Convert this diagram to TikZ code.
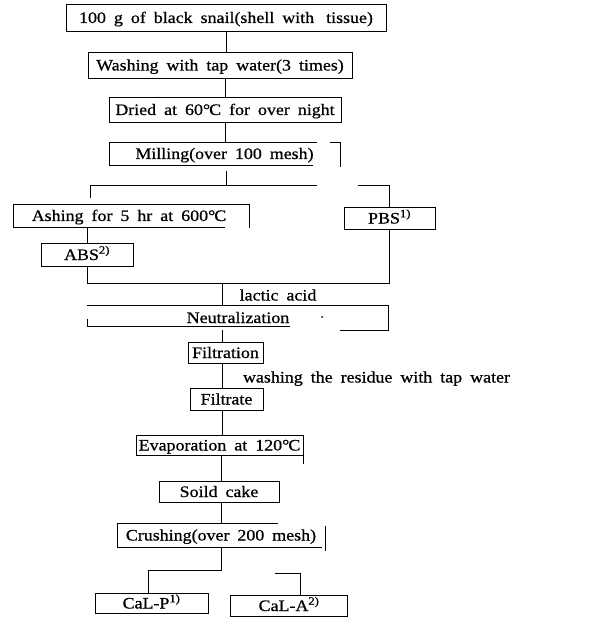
\documentclass[tikz,border=0pt]{standalone}
\usepackage{fontspec}
\setmainfont{Liberation Serif}[FakeStretch=1.12, FakeBold=0.7]
\newcommand{\dC}{°\kern-1pt C}
\newcommand{\nf}{\fontsize{16}{18}\selectfont\spaceskip=0.5em plus 0.1em minus 0.1em\relax}
\begin{document}
\begin{tikzpicture}[x=1pt,y=-1pt,
  every node/.style={font=\nf, inner sep=0pt, text height=14pt, text depth=3pt},
  box/.style={draw, line width=0.9pt},
  open/.style={draw=none},
  boxl/.style={line width=0.9pt},
  ln/.style={line width=0.8pt}]
\useasboundingbox (0,0) rectangle (595,620);

% boxes and texts
\node[box, minimum width=320pt, minimum height=27pt] (b1) at (226,17.5) {100 g of black snail(shell with\hspace{4pt} tissue)};
\node[box, minimum width=264pt, minimum height=26pt] (b2) at (220,65) {Washing with tap water(3 times)};
\node[box, minimum width=232pt, minimum height=25pt] (b3) at (225,109.5) {Dried at 60\dC\ for over night};
\node[open, minimum width=231pt, minimum height=23pt] (mill) at (224.5,153.5) {Milling(over 100 mesh)};
\node[open, minimum width=236pt, minimum height=23pt] (ash) at (129,215.5) {Ashing for 5 hr at 600\dC};
\node[box, minimum width=91pt, minimum height=22pt] (pbs) at (389.5,218) {PBS\textsuperscript{1)}};
\node[box, minimum width=92pt, minimum height=23pt] (abs) at (87,254.5) {ABS\textsuperscript{2)}};
\node (lac) at (278,295) {lactic acid};
\node[open, minimum width=301pt, minimum height=25pt] (neut) at (238,317.5) {Neutralization};
\node[box, minimum width=75pt, minimum height=21pt] (filt) at (225.5,352.5) {Filtration};
\node (wash) at (376.5,377) {washing the residue with tap water};
\node[box, minimum width=73pt, minimum height=22pt] (filtr) at (226.5,399) {Filtrate};
\node[open, minimum width=167pt, minimum height=20pt] (evap) at (219.5,445) {Evaporation at 120\dC};
\node[box, minimum width=120pt, minimum height=21pt] (soild) at (219,491.5) {Soild cake};
\node[open, minimum width=208pt, minimum height=24pt] (crush) at (221,535) {Crushing(over 200 mesh)};
\node[box, minimum width=113pt, minimum height=20pt] (calp) at (151.5,603) {CaL-P\textsuperscript{1)}};
\node[box, minimum width=117pt, minimum height=21pt] (cala) at (289,605.5) {CaL-A\textsuperscript{2)}};

% open box outlines
\draw[boxl] (317,142) -- (109,142) -- (109,165) -- (313,165);
\draw[boxl] (330,142) -- (340,142) -- (340,167);
\draw[boxl] (225,227) -- (13,227) -- (13,204) -- (249,204) -- (249,228);
\draw[boxl] (87,305) -- (388,305) -- (388,330) -- (340,330);
\draw[boxl] (290,326) -- (87,326) -- (87,319);
\fill (322,317) circle (1pt);
\draw[boxl] (303,455) -- (136,455) -- (136,435) -- (303,435) -- (303,464);
\draw[boxl] (278,523) -- (117,523) -- (117,547) -- (322,547);
\draw[boxl] (325,526) -- (325,551);

% connectors
\draw[ln] (b1.south) -- (b1.south |- b2.north);
\draw[ln] (b3.north |- b2.south) -- (b3.north);
\draw[ln] (b3.south) -- (b3.south |- mill.north);
\coordinate (mb) at (226,171);
\coordinate (br) at (226,185);
\draw[ln] (mb) -- (br);
\coordinate (al) at (90,198);
\coordinate (brm) at (317,185);
\coordinate (brr) at (358,185);
\draw[ln] (al) |- (brm);
\draw[ln] (brr) -| (pbs.north);
\draw[ln] (abs.north |- ash.south) -- (abs.north);
\coordinate (mg) at (389.5,283);
\draw[ln] (abs.south) |- (mg) -- (pbs.south);
\coordinate (mc) at (222,283);
\draw[ln] (mc) -- (mc |- neut.north);
\draw[ln] (mc |- neut.south) -- (mc |- filt.north);
\draw[ln, line width=0.6pt] (mc |- filt.south) -- (mc |- filtr.north);
\draw[ln] (mc |- filtr.south) -- (mc |- evap.north);
\coordinate (sc) at (221,0);
\draw[ln] (sc |- evap.south) -- (sc |- soild.north);
\draw[ln] (sc |- soild.south) -- (sc |- crush.north);
\coordinate (cpl) at (148,570);
\draw[ln] (sc |- crush.south) |- (cpl) -- (cpl |- calp.north);
\coordinate (cpr) at (275,573);
\coordinate (cpr2) at (300,573);
\draw[ln] (cpr) -- (cpr2) -- (cpr2 |- cala.north);
\end{tikzpicture}
\end{document}
